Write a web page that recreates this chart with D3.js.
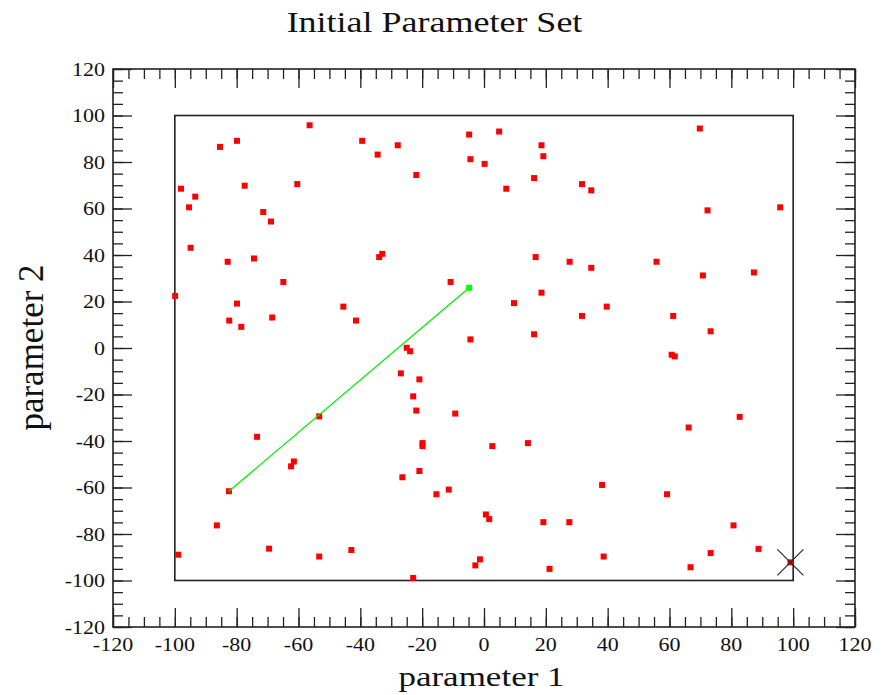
<!DOCTYPE html>
<html>
<head>
<meta charset="utf-8">
<script src="https://cdn.jsdelivr.net/npm/d3@7/dist/d3.min.js"></script>
<style>
body { margin: 0; background: #fff; }
text { font-family: "Liberation Serif", "Times New Roman", serif; fill: #111; }
</style>
</head>
<body>
<svg id="chart" width="882" height="695"></svg>
<script>
// parameter set samples (red squares)
var p1 = [-56.4, -85.4, -79.9, -39.4, -34.4, -27.9, -21.9, -4.8, 4.9, -4.4, 0.2,
    -98.0, -93.4, -95.4, -77.4, -60.4, -71.4, -68.9, -94.9, -82.9, -74.4, -33.9,
    -32.9, -64.9, -10.8, -99.9, -79.9, -45.5, -82.4, -68.5, -41.4, -78.5, -4.4, -25.0,
    18.6, 19.2, 16.2, 7.2, 31.7, 34.7, 69.8, 72.3, 95.8, 16.7, 27.7, 34.7, 55.8,
    70.8, 87.3, 18.6, 9.7, 39.7, 31.7, 61.2, 16.2, 73.3,
    -23.9, -26.9, -20.9, -22.9, -21.9, -9.3, -53.3, -73.4, -19.9, -19.9, 2.7,
    -61.5, -62.4, -26.4, -20.9, -82.5, -11.4, -15.4, 0.6, 1.7, -86.4, -98.9,
    -69.5, -53.3, -42.9, -1.3, -2.8, -22.9,
    60.7, 61.7, 82.7, 66.2, 14.2, 38.2, 59.2, 19.2, 27.6, 80.7, 38.7, 73.3,
    88.8, 21.2, 66.8, 99.1];
var p2 = [95.8, 86.5, 89.1, 89.1, 83.2, 87.2, 74.4, 91.8, 93.1, 81.2, 79.2,
    68.5, 65.1, 60.5, 69.8, 70.5, 58.5, 54.4, 43.1, 37.1, 38.5, 39.1,
    40.5, 28.4, 28.4, 22.4, 19.1, 17.8, 11.8, 13.1, 11.8, 9.1, 3.7, 0.1,
    87.2, 82.5, 73.1, 68.5, 70.5, 67.8, 94.4, 59.2, 60.5, 39.1, 37.1, 34.5, 37.1,
    31.2, 32.5, 23.8, 19.3, 17.8, 13.8, 13.8, 5.9, 7.2,
    -1.4, -10.9, -13.5, -20.8, -26.9, -28.2, -29.4, -38.2, -40.9, -42.2, -42.2,
    -48.8, -50.9, -55.6, -52.9, -61.6, -60.9, -62.9, -71.6, -73.6, -76.3, -88.9,
    -86.3, -89.7, -86.9, -90.9, -93.5, -98.9,
    -2.9, -3.6, -29.6, -34.2, -40.9, -58.9, -62.9, -74.9, -74.9, -76.3, -89.7, -88.2,
    -86.4, -95.0, -94.3, -92.2];

// path (green) and best point (X)
var pathP1 = [-82.5, -4.8];
var pathP2 = [-61.6, 25.9];
var bestP1 = [99.1];
var bestP2 = [-92.2];

var boundsP1 = [-100, 100];
var boundsP2 = [-100, 100];

var majorTicks = [-120, -100, -80, -60, -40, -20, 0, 20, 40, 60, 80, 100, 120];
var minorTicks = d3.range(-120, 121, 5);

var pLeft = 113, pRight = 855, pTop = 69, pBottom = 627;

var x = d3.scaleLinear().domain([-120, 120]).range([pLeft, pRight]);
var y = d3.scaleLinear().domain([-120, 120]).range([pBottom, pTop]);

var svg = d3.select('#chart');

function addTicks(gen, tx, ty, size) {
    var g = svg.append('g')
	    .attr('transform', 'translate(' + tx + ',' + ty + ')')
	    .call(gen.tickSize(size).tickFormat(''));
    g.select('.domain').remove();
    g.selectAll('line').attr('stroke', '#222').attr('stroke-width', 1.3);
    return g;
}

// minor ticks
addTicks(d3.axisBottom(x).tickValues(minorTicks), 0, pBottom, -10);
addTicks(d3.axisTop(x).tickValues(minorTicks), 0, pTop, -10);
addTicks(d3.axisLeft(y).tickValues(minorTicks), pLeft, 0, -10);
addTicks(d3.axisRight(y).tickValues(minorTicks), pRight, 0, -10);
// major ticks
addTicks(d3.axisBottom(x).tickValues(majorTicks), 0, pBottom, -19);
addTicks(d3.axisTop(x).tickValues(majorTicks), 0, pTop, -19);
addTicks(d3.axisLeft(y).tickValues(majorTicks), pLeft, 0, -19);
addTicks(d3.axisRight(y).tickValues(majorTicks), pRight, 0, -19);

// tick labels (text is squashed vertically in the original)
var sy = 0.88;
svg.append('g').selectAll('text')
	.data(majorTicks)
	.join('text')
	.attr('transform', function (d) { return 'translate(' + x(d) + ',651) scale(1,' + sy + ')'; })
	.attr('text-anchor', 'middle')
	.attr('font-size', 22)
	.text(function (d) { return String(d); });
svg.append('g').selectAll('text')
	.data(majorTicks)
	.join('text')
	.attr('transform', function (d) { return 'translate(105,' + (y(d) + 6.5) + ') scale(1,' + sy + ')'; })
	.attr('text-anchor', 'end')
	.attr('font-size', 22)
	.text(function (d) { return String(d); });

// frame
svg.append('rect')
	.attr('x', pLeft).attr('y', pTop)
	.attr('width', pRight - pLeft).attr('height', pBottom - pTop)
	.attr('fill', 'none').attr('stroke', '#222').attr('stroke-width', 1.6);

// parameter bounds
svg.append('rect')
	.attr('x', x(boundsP1[0])).attr('y', y(boundsP2[1]))
	.attr('width', x(boundsP1[1]) - x(boundsP1[0]))
	.attr('height', y(boundsP2[0]) - y(boundsP2[1]))
	.attr('fill', 'none').attr('stroke', '#222').attr('stroke-width', 1.6);

var pts = p1.map(function (d, i) {
    return {a: d, b: p2[i]};
});

svg.append('g').selectAll('rect')
	.data(pts)
	.join('rect')
	.attr('x', function (d) { return x(d.a) - 3; })
	.attr('y', function (d) { return y(d.b) - 3; })
	.attr('width', 6).attr('height', 6)
	.attr('fill', '#ff0000');

var pathPts = pathP1.map(function (d, i) {
    return {a: d, b: pathP2[i]};
});
svg.append('path')
	.datum(pathPts)
	.attr('fill', 'none')
	.attr('stroke', '#00ee00')
	.attr('stroke-width', 1.3)
	.attr('d', d3.line().x(function (d) { return x(d.a); }).y(function (d) { return y(d.b); }));
svg.append('rect')
	.attr('x', x(pathP1[1]) - 3).attr('y', y(pathP2[1]) - 3)
	.attr('width', 6).attr('height', 6)
	.attr('fill', '#00ff00');

// best point cross
bestP1.forEach(function (d, i) {
    var cx = x(d), cy = y(bestP2[i]), r = 13;
    svg.append('path')
	    .attr('d', 'M' + (cx - r) + ',' + (cy - r) + 'L' + (cx + r) + ',' + (cy + r) +
		    'M' + (cx - r) + ',' + (cy + r) + 'L' + (cx + r) + ',' + (cy - r))
	    .attr('stroke', '#222').attr('stroke-width', 1.1).attr('fill', 'none');
});

// titles
svg.append('text')
	.attr('transform', 'translate(434.5,32) scale(1,0.8)')
	.attr('text-anchor', 'middle')
	.attr('font-size', 36)
	.text('Initial Parameter Set');
svg.append('text')
	.attr('transform', 'translate(481.5,686) scale(1,0.76)')
	.attr('text-anchor', 'middle')
	.attr('font-size', 35)
	.text('parameter 1');
svg.append('text')
	.attr('transform', 'translate(43,347.5) rotate(-90)')
	.attr('text-anchor', 'middle')
	.attr('font-size', 35)
	.text('parameter 2');
</script>
</body>
</html>
